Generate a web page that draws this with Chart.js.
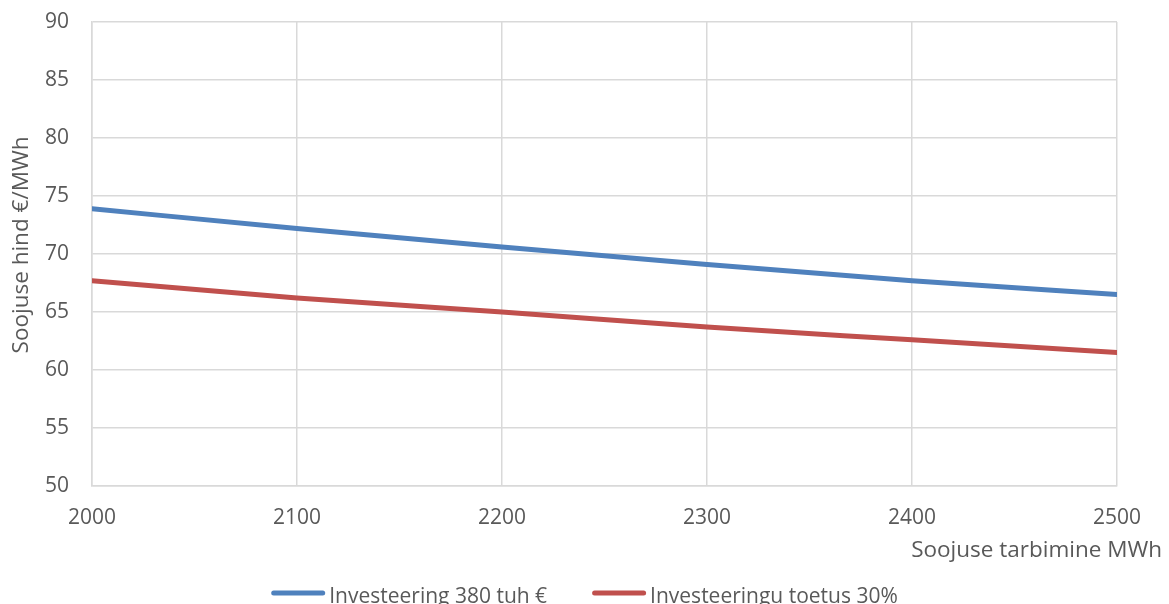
<!DOCTYPE html>
<html>
<head>
<meta charset="utf-8">
<script src="https://cdn.jsdelivr.net/npm/chart.js@4.4.1/dist/chart.umd.min.js"></script>
<style>
  html, body { margin: 0; padding: 0; background: #ffffff; overflow: hidden; }
  #wrap { width: 1169px; height: 604px; position: relative; }
</style>
</head>
<body>
<div id="wrap"><canvas id="c"></canvas></div>
<script>
// Heat consumption (MWh) and resulting heat price (€/MWh)
const consumption = [2000, 2100, 2200, 2300, 2400, 2500];
const priceInvestment = [73.9, 72.2, 70.6, 69.1, 67.7, 66.5];
const priceSubsidy = [67.7, 66.2, 65.0, 63.7, 62.6, 61.5];
const seriesNames = ['Investeering 380 tuh €', 'Investeeringu toetus 30%'];
const seriesColors = ['#4f81bd', '#c0504d'];
const xTitle = 'Soojuse tarbimine MWh';
const yTitle = 'Soojuse hind €/MWh';
const xRange = [2000, 2500, 100];
const yRange = [50, 90, 5];

const FONT = '"Open Sans", "Noto Sans", sans-serif';
const FSIZE = 21;
const TITLE_SIZE = 22.5;
const TEXT = '#595959';
const GRID = '#d9d9d9';

const toPoints = ys => consumption.map((x, i) => ({ x, y: ys[i] }));

// Axis titles and the legend are painted on top of the chart
const annotate = {
  id: 'annotate',
  afterDraw(chart) {
    const ctx = chart.ctx;
    ctx.save();
    ctx.fillStyle = TEXT;
    ctx.font = TITLE_SIZE + 'px ' + FONT;

    // y-axis title
    ctx.save();
    ctx.translate(22, 245);
    ctx.rotate(-Math.PI / 2);
    ctx.textAlign = 'center';
    ctx.textBaseline = 'middle';
    ctx.fillText(yTitle, 0, 0);
    ctx.restore();

    // x-axis title, right aligned
    ctx.textAlign = 'right';
    ctx.textBaseline = 'alphabetic';
    ctx.fillText(xTitle, 1162, 557);

    // legend
    ctx.font = FSIZE + 'px ' + FONT;
    const lineLen = 54, gap = 4, spacing = 45;
    const widths = seriesNames.map(n => ctx.measureText(n).width);
    const total = widths.reduce((s, w) => s + lineLen + gap + w, 0) + spacing * (seriesNames.length - 1);
    let x = (chart.width - total) / 2;
    const ly = 593;
    ctx.textAlign = 'left';
    seriesNames.forEach((name, i) => {
      ctx.strokeStyle = seriesColors[i];
      ctx.lineWidth = 5;
      ctx.lineCap = 'round';
      ctx.beginPath();
      ctx.moveTo(x + 2.5, ly);
      ctx.lineTo(x + lineLen - 2.5, ly);
      ctx.stroke();
      ctx.fillStyle = TEXT;
      ctx.fillText(name, x + lineLen + gap, 603);
      x += lineLen + gap + widths[i] + spacing;
    });
    ctx.restore();
  }
};

const noOverflow = scale => {
  scale.paddingTop = 0; scale.paddingBottom = 0;
  scale.paddingLeft = 0; scale.paddingRight = 0;
};

new Chart(document.getElementById('c'), {
  type: 'line',
  data: {
    datasets: [
      { label: seriesNames[0], data: toPoints(priceInvestment), borderColor: seriesColors[0],
        backgroundColor: seriesColors[0], borderWidth: 5, pointRadius: 0, tension: 0.4,
        cubicInterpolationMode: 'monotone', borderCapStyle: 'round' },
      { label: seriesNames[1], data: toPoints(priceSubsidy), borderColor: seriesColors[1],
        backgroundColor: seriesColors[1], borderWidth: 5, pointRadius: 0, tension: 0.4,
        cubicInterpolationMode: 'monotone', borderCapStyle: 'round' }
    ]
  },
  options: {
    responsive: true,
    maintainAspectRatio: false,
    animation: false,
    layout: { padding: { top: 22, right: 52, left: 0, bottom: 0 } },
    plugins: { legend: { display: false }, tooltip: { enabled: false } },
    scales: {
      x: {
        type: 'linear', min: xRange[0], max: xRange[1],
        ticks: { stepSize: xRange[2], color: TEXT, font: { family: FONT, size: FSIZE }, padding: 19,
                 maxRotation: 0, callback: v => String(v) },
        grid: { color: GRID, lineWidth: 1.5, drawTicks: false },
        border: { color: GRID, width: 1.5 },
        afterFit(scale) { scale.height = 118; noOverflow(scale); }
      },
      y: {
        min: yRange[0], max: yRange[1],
        ticks: { stepSize: yRange[2], color: TEXT, font: { family: FONT, size: FSIZE }, padding: 23,
                 callback: v => String(v) },
        grid: { color: GRID, lineWidth: 1.5, drawTicks: false },
        border: { color: GRID, width: 1.5 },
        afterFit(scale) { scale.width = 92; noOverflow(scale); }
      }
    }
  },
  plugins: [annotate]
});
</script>
</body>
</html>
